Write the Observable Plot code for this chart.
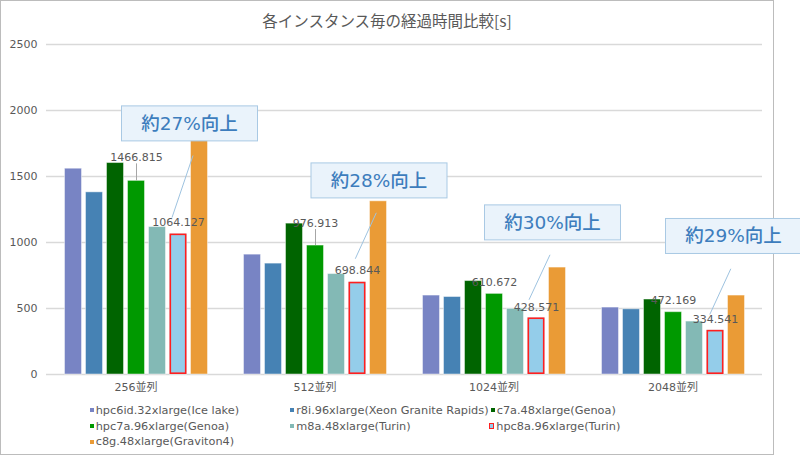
<!DOCTYPE html>
<html><head><meta charset="utf-8">
<script src="https://cdn.jsdelivr.net/npm/d3@7"></script>
<script src="https://cdn.jsdelivr.net/npm/@observablehq/plot@0.6"></script>
<style>
html,body{margin:0;padding:0;background:#fff;}
#wrap{position:relative;width:800px;height:456px;overflow:hidden;font-family:"DejaVu Sans","Noto Sans CJK JP",sans-serif;color:#595959;}
#frame{position:absolute;left:0;top:0;width:774px;height:455px;box-sizing:border-box;border:1.5px solid #bcbcbc;}
#title{position:absolute;left:0;top:0;width:774px;height:40px;line-height:40px;text-align:center;font-size:15.5px;font-family:"Noto Sans CJK JP",sans-serif;}
#chart{position:absolute;left:0;top:36px;}
#legend{position:absolute;left:89.5px;top:402.5px;display:grid;grid-template-columns:200.5px 200.5px auto;grid-auto-rows:15.7px;font-size:11.3px;}
.item{display:flex;align-items:center;white-space:nowrap;}
.sw{width:4px;height:4px;margin-right:2.2px;flex:none;}
.sw.red{width:3.2px;height:3.2px;border:1.2px solid #ff1f1f;margin-left:-1.5px;margin-right:2.1px;}
</style></head>
<body>
<div id="wrap">
  <div id="frame"></div>
  <div id="title"></div>
  <div id="chart"></div>
  <div id="legend"></div>
</div>
<script>
// ---- data ----
const titleText = "各インスタンス毎の経過時間比較[s]";
const groups = ["256並列", "512並列", "1024並列", "2048並列"];
const series = [
  "hpc6id.32xlarge(Ice lake)",
  "r8i.96xlarge(Xeon Granite Rapids)",
  "c7a.48xlarge(Genoa)",
  "hpc7a.96xlarge(Genoa)",
  "m8a.48xlarge(Turin)",
  "hpc8a.96xlarge(Turin)",
  "c8g.48xlarge(Graviton4)"
];
const hpc6id = [1559, 908, 598, 507];
const r8i    = [1380, 840, 587, 494];
const c7a    = [1602, 1143, 708, 568];
const hpc7a  = [1466.815, 976.913, 610.672, 472.169];
const m8a    = [1117, 761, 497, 401];
const hpc8a  = [1064.127, 698.844, 428.571, 334.541];
const c8g    = [1790, 1312, 810, 598];
const improvements = ["約27%向上", "約28%向上", "約30%向上", "約29%向上"];
const yTicks = [0, 500, 1000, 1500, 2000, 2500];

// ---- style / layout ----
const colors = ["#7884c4", "#4682b4", "#006400", "#009900", "#83b9b5", "#94cdea", "#ea9b36"];
const FONT = '"DejaVu Sans","Noto Sans CJK JP",sans-serif';
const W = 800, H = 360, MT = 8, MB = 22, ML = 45.5, MR = 38.5;
const k = 2500 / (H - MT - MB); // value units per pixel
const lift7a = [23, 22, 11.5, 11.5];   // px above bar top (label centre)
const lift8a = [12, 11.3, 10.5, 11.3];
const boxY = [1898, 1466, 1148, 1045]; // callout box centre (value units)
const boxDx = [-10, 0.5, -5, -3];
const lineY1 = [1659, 1225, 907, 801];
const lineY2 = [1189, 877, 566, 455];
const lineDx = [-6.5, -2.2, -7.5, -5.7];

document.getElementById("title").textContent = titleText;

const valuesBySeries = [hpc6id, r8i, c7a, hpc7a, m8a, hpc8a, c8g];
const data = [];
groups.forEach((g, i) => series.forEach((s, j) => data.push({group: g, series: s, value: valuesBySeries[j][i]})));
const S7a = series[3], S8a = series[5], S8g = series[6];
const lab7a = groups.map((g, i) => ({group: g, series: S7a, value: hpc7a[i], ly: hpc7a[i] + lift7a[i] * k}));
const lab8a = groups.map((g, i) => ({group: g, series: S8a, value: hpc8a[i], ly: hpc8a[i] + lift8a[i] * k}));
const leaders = groups.map((g, i) => ({group: g, series: S7a, y1: hpc7a[i], y2: hpc7a[i] + (lift7a[i] - 6) * k, show: lift7a[i] > 15})).filter(d => d.show);

const chart = Plot.plot({
  width: W, height: H,
  marginTop: MT, marginBottom: MB, marginLeft: ML, marginRight: MR,
  style: {fontFamily: FONT, fontSize: "11px", color: "#595959", background: "transparent"},
  fx: {domain: groups, padding: 0, axis: "bottom", tickSize: 0, tickPadding: 9, label: null},
  x: {domain: series, paddingInner: 0.2, paddingOuter: 0.85, axis: null},
  y: {domain: [0, 2500], ticks: yTicks, tickSize: 0, tickPadding: 9, label: null, tickFormat: d => String(d)},
  color: {domain: series, range: colors},
  marks: [
    Plot.ruleY(yTicks, {stroke: "#d9d9d9", strokeWidth: 1.3}),
    Plot.barY(data, {fx: "group", x: "series", y: "value", fill: "series", stroke: "#ffffff", strokeOpacity: 0.45, strokeWidth: 1}),
    Plot.barY(data.filter(d => d.series === S8a), {fx: "group", x: "series", y: "value", fill: "none", stroke: "#ff1f1f", strokeWidth: 1.6, inset: 0.8}),
    Plot.ruleX(leaders, {fx: "group", x: "series", y1: "y1", y2: "y2", stroke: "#a6a6a6", strokeWidth: 1}),
    ...groups.map((g, i) => Plot.link([{group: g}], {fx: "group", x1: () => S8g, x2: () => S8a, y1: () => lineY1[i], y2: () => lineY2[i], dx: lineDx[i], stroke: "#9ec3e0", strokeWidth: 1})),
    Plot.text(lab7a, {fx: "group", x: "series", y: "ly", text: d => String(d.value), fill: "#595959", fontSize: 11, lineAnchor: "middle"}),
    Plot.text(lab8a, {fx: "group", x: "series", y: "ly", text: d => String(d.value), fill: "#595959", fontSize: 11, lineAnchor: "middle"}),
    ...groups.map((g, i) => Plot.text([{group: g, t: improvements[i]}], {fx: "group", x: () => S8g, y: () => boxY[i], dx: boxDx[i], text: "t", fill: "#3d7dbd", fontSize: 18.5, fontWeight: 500, lineAnchor: "middle", fontFamily: FONT}))
  ]
});
document.getElementById("chart").appendChild(chart);

// callout box backgrounds (sized boxes behind the callout texts)
chart.querySelectorAll("text").forEach(t => {
  if (improvements.includes(t.textContent)) {
    const b = t.getBBox();
    const cx = b.x + b.width / 2, cy = b.y + b.height / 2;
    const r = document.createElementNS("http://www.w3.org/2000/svg", "rect");
    r.setAttribute("x", cx - 68); r.setAttribute("y", cy - 17.5);
    r.setAttribute("width", 136); r.setAttribute("height", 35);
    const tr = t.getAttribute("transform");
    if (tr) r.setAttribute("transform", tr);
    r.setAttribute("fill", "#eaf3fb"); r.setAttribute("stroke", "#a9c9e4"); r.setAttribute("stroke-width", 1);
    t.parentNode.insertBefore(r, t);
  }
});

// legend
const lg = document.getElementById("legend");
series.forEach((s, j) => {
  const it = document.createElement("div"); it.className = "item";
  const sw = document.createElement("span");
  sw.className = "sw" + (s === S8a ? " red" : "");
  sw.style.background = colors[j];
  it.appendChild(sw);
  it.appendChild(document.createTextNode(s));
  lg.appendChild(it);
});
</script>
</body></html>
